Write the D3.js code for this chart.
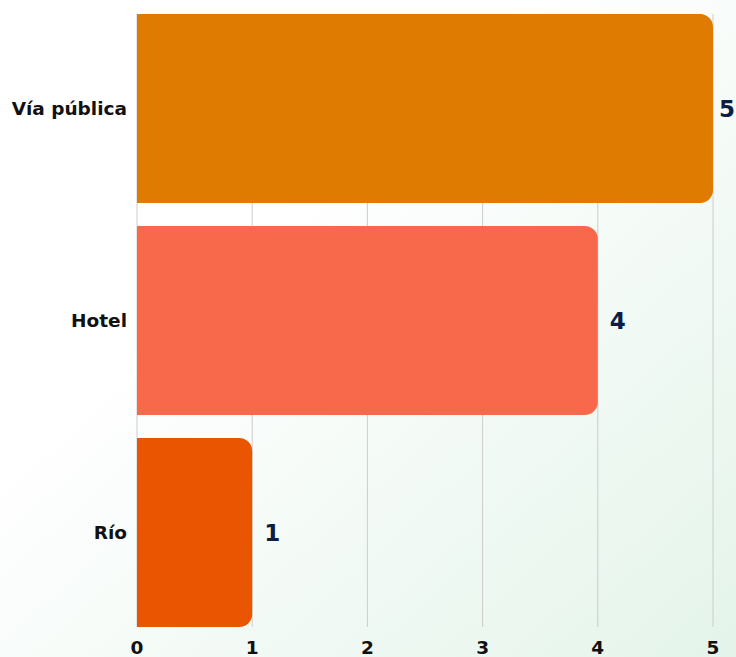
<html>
<head>
<meta charset="utf-8">
<title>Lugares</title>
<style>
body { margin: 0; background: #fff; }
svg { display: block; }
</style>
</head>
<body>
<svg width="736" height="657" font-family="'DejaVu Sans', sans-serif"></svg>
<script src="https://d3js.org/d3.v7.min.js"></script>
<script>
var categories = ["Vía pública", "Hotel", "Río"];
var values = [5, 4, 1];
var colors = ["#de7b00", "#f8694b", "#e95500"];
var ticks = [0, 1, 2, 3, 4, 5];

var svg = d3.select("svg"),
    width = +svg.attr("width"),
    height = +svg.attr("height");

var defs = svg.append("defs");
var grad = defs.append("linearGradient")
    .attr("id", "bg")
    .attr("x1", "0").attr("y1", "0")
    .attr("x2", "1").attr("y2", "1");
grad.append("stop").attr("offset", "0.35").attr("stop-color", "#ffffff");
grad.append("stop").attr("offset", "1").attr("stop-color", "#e4f4ea");

svg.append("rect")
    .attr("width", width).attr("height", height)
    .attr("fill", "url(#bg)");

var x = d3.scaleLinear().domain([0, 5]).range([137, 713]);
var y = d3.scaleBand().domain(categories).range([14, 627]).paddingInner(0.108).paddingOuter(0);

// grid
svg.append("g").selectAll("line")
    .data(ticks)
    .enter().append("line")
      .attr("x1", function(d) { return x(d); })
      .attr("x2", function(d) { return x(d); })
      .attr("y1", 14)
      .attr("y2", 627)
      .attr("stroke", "#cccccc")
      .attr("stroke-width", 1);

// bars with rounded right end
function barPath(x0, x1, y0, h, r) {
  r = Math.min(r, (x1 - x0));
  return "M" + x0 + "," + y0 +
    "H" + (x1 - r) +
    "A" + r + "," + r + " 0 0 1 " + x1 + "," + (y0 + r) +
    "V" + (y0 + h - r) +
    "A" + r + "," + r + " 0 0 1 " + (x1 - r) + "," + (y0 + h) +
    "H" + x0 + "Z";
}

svg.append("g").selectAll("path")
    .data(categories)
    .enter().append("path")
      .attr("d", function(d, i) { return barPath(x(0), x(values[i]), y(d), y.bandwidth(), 13); })
      .attr("fill", function(d, i) { return colors[i]; });

// value labels (kept inside the picture)
svg.append("g").selectAll("text")
    .data(categories)
    .enter().append("text")
      .attr("x", function(d, i) { return Math.min(x(values[i]) + 12, width - 17); })
      .attr("y", function(d) { return y(d) + y.bandwidth() / 2; })
      .attr("dy", "0.35em")
      .attr("fill", "#0d1d45")
      .attr("font-size", 23)
      .attr("font-weight", 700)
      .text(function(d, i) { return values[i]; });

// category labels
svg.append("g").selectAll("text")
    .data(categories)
    .enter().append("text")
      .attr("x", 127)
      .attr("y", function(d) { return y(d) + y.bandwidth() / 2; })
      .attr("dy", "0.35em")
      .attr("text-anchor", "end")
      .attr("fill", "#111111")
      .attr("font-size", 18.5)
      .attr("font-weight", 700)
      .text(function(d) { return d; });

// x tick labels
svg.append("g").selectAll("text")
    .data(ticks)
    .enter().append("text")
      .attr("x", function(d) { return x(d); })
      .attr("y", 654)
      .attr("text-anchor", "middle")
      .attr("fill", "#111111")
      .attr("font-size", 18.5)
      .attr("font-weight", 700)
      .text(function(d) { return d; });
</script>
</body>
</html>
